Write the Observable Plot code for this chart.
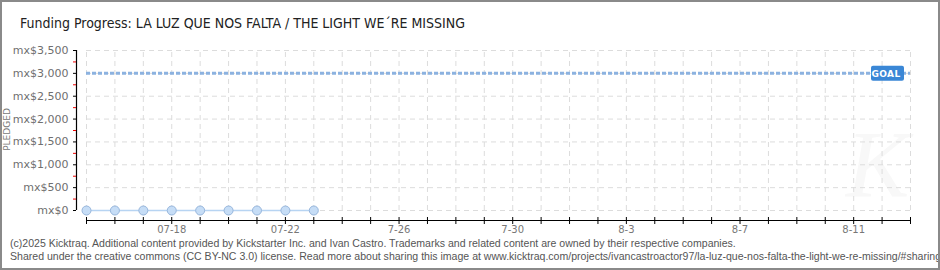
<!DOCTYPE html>
<html><head><meta charset="utf-8">
<script src="https://cdn.jsdelivr.net/npm/d3@7"></script>
<script src="https://cdn.jsdelivr.net/npm/@observablehq/plot@0.6"></script>
<style>
body{margin:0;background:#fff;}
#wrap{position:relative;width:940px;height:270px;overflow:hidden;background:#fff;font-family:"DejaVu Sans",sans-serif;}
#border{position:absolute;left:0;top:0;width:940px;height:270px;box-sizing:border-box;border:2px solid #8a8a8a;pointer-events:none;}
#title{position:absolute;left:20px;top:15px;font-family:"Liberation Sans Narrow","DejaVu Sans Condensed",sans-serif;font-size:14px;color:#222;white-space:nowrap;}
#wm{position:absolute;left:846px;top:110px;font-family:"Liberation Serif",serif;font-style:italic;font-size:95px;color:#f8f8f8;}
#chart{position:absolute;left:0;top:40px;}
#ylab{position:absolute;left:-15px;top:124px;width:44px;text-align:center;transform:rotate(-90deg);font-size:9px;line-height:11px;color:#777;}
#foot{position:absolute;left:10px;top:237px;font-family:"Liberation Sans",sans-serif;font-size:10.55px;color:#555;line-height:12.5px;white-space:nowrap;}
</style></head>
<body>
<div id="wrap">
  <div id="title">Funding Progress: LA LUZ QUE NOS FALTA / THE LIGHT WE´RE MISSING</div>
  <div id="wm">K</div>
  <div id="chart"></div>
  <div id="ylab">PLEDGED</div>
  <div id="foot">(c)2025 Kicktraq. Additional content provided by Kickstarter Inc. and Ivan Castro. Trademarks and related content are owned by their respective companies.<br>Shared under the creative commons (CC BY-NC 3.0) license. Read more about sharing this image at www.kicktraq.com/projects/ivancastroactor97/la-luz-que-nos-falta-the-light-we-re-missing/#sharing</div>
  <div id="border"></div>
</div>
<script>
// ---- data ----
const dates = ["2025-07-15","2025-07-16","2025-07-17","2025-07-18","2025-07-19","2025-07-20","2025-07-21","2025-07-22","2025-07-23"];
const pledged = [0,0,0,0,0,0,0,0,0];
const goal = 3000;
const axisStart = "2025-07-15";
const axisEnd = "2025-08-13";
const yTicks = [0,500,1000,1500,2000,2500,3000,3500];
const yMinorTicks = [250,750,1250,1750,2250,2750,3250];
const xLabelDates = ["2025-07-18","2025-07-22","2025-07-26","2025-07-30","2025-08-03","2025-08-07","2025-08-11"];
const xLabels = ["07-18","07-22","7-26","7-30","8-3","8-7","8-11"];

const parse = d3.utcParse("%Y-%m-%d");
const x0 = parse(axisStart), x1 = parse(axisEnd);
const days = d3.utcDay.range(x0, d3.utcDay.offset(x1, 1));
const labelMap = new Map(xLabelDates.map((d, i) => [+parse(d), xLabels[i]]));
const data = dates.map((d, i) => ({date: parse(d), value: pledged[i]}));
const fmt = d => "mx$" + d3.format(",")(d);

function goalLabel(index, scales) {
  const g = d3.create("svg:g");
  const xr = scales.x(x1) - 6, yc = scales.y(goal);
  g.append("rect").attr("x", xr - 33).attr("y", yc - 7).attr("width", 33).attr("height", 15)
    .attr("rx", 2).attr("fill", "#3a87d6");
  g.append("text").attr("x", xr - 18).attr("y", yc + 4).attr("fill", "#fff")
    .attr("text-anchor", "middle")
    .attr("font-size", 9).attr("font-weight", "bold").attr("font-family", "DejaVu Sans")
    .attr("letter-spacing", 0.4).text("GOAL");
  return g.node();
}

const chart = Plot.plot({
  width: 940, height: 200,
  marginTop: 10, marginBottom: 23, marginLeft: 76, marginRight: 30,
  x: {type: "utc", domain: [x0, x1], range: [86, 910]},
  y: {domain: [0, 3500], range: [170, 10]},
  style: {fontFamily: "DejaVu Sans", background: "transparent", overflow: "visible"},
  marks: [
    Plot.ruleX(days, {x: d => d, y1: 0, y2: 3500, stroke: "#dcdcdc", strokeDasharray: "5,4"}),
    Plot.ruleY(yTicks, {y: d => d, x1: x0, x2: x1, stroke: "#dcdcdc", strokeDasharray: "5,4"}),
    Plot.ruleX([x0], {y1: 0, y2: 3500, dx: -10, stroke: "#000", strokeWidth: 1.2}),
    Plot.ruleY([0], {x1: x0, x2: x1, dy: 10, stroke: "#000", strokeWidth: 1.2}),
    Plot.axisY({ticks: yTicks, tickSize: 3, tickPadding: 5, tickFormat: fmt, fontSize: 11, fill: "#6f6f6f", stroke: "#000", label: null}),
    Plot.axisY({ticks: yMinorTicks, tickSize: 3, tickFormat: () => "", stroke: "#e00", label: null}),
    Plot.axisX({ticks: days, tickSize: 7, tickPadding: 1, tickFormat: d => labelMap.get(+d) ?? "", fontSize: 10, fill: "#777", stroke: "#000", label: null}),
    Plot.ruleY([goal], {x1: x0, x2: x1, stroke: "#8cb2e0", strokeWidth: 3, strokeDasharray: "4,2"}),
    Plot.line(data, {x: "date", y: "value", stroke: "#b7d4f2", strokeWidth: 1.5}),
    Plot.dot(data, {x: "date", y: "value", r: 4.5, fill: "#c6ddf6", stroke: "#97b6dc", strokeWidth: 1}),
    goalLabel
  ]
});
document.getElementById("chart").appendChild(chart);
</script>
</body></html>
